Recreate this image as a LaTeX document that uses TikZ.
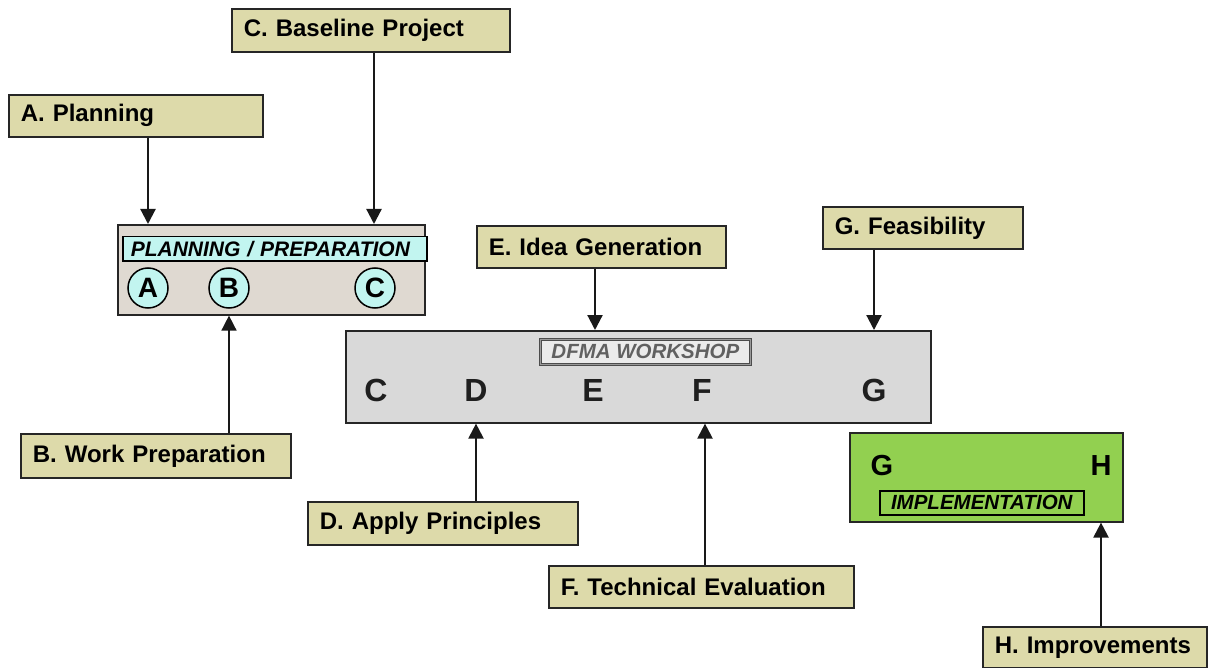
\documentclass[tikz,border=0pt]{standalone}
\usepackage{fontspec}
\setmainfont{Liberation Sans}
\usetikzlibrary{arrows.meta}
\hyphenpenalty=10000
\exhyphenpenalty=10000
\definecolor{khaki}{HTML}{DDDAAA}
\definecolor{planfill}{HTML}{DFD9D1}
\definecolor{aqua}{HTML}{C2F5F0}
\definecolor{wsfill}{HTML}{D9D9D9}
\definecolor{implgreen}{HTML}{92D050}
\begin{document}
\begin{tikzpicture}[x=1pt,y=-1pt,
  lbox/.style={draw=black!85,fill=khaki,line width=1.6pt,inner xsep=12pt,inner ysep=0pt,
    font=\bfseries\fontsize{24}{28}\selectfont,align=left,anchor=north west},
  arr/.style={line width=2.2pt,black!90,-{Triangle[length=15pt,width=15pt]}},
  circ/.style={circle,draw=black,line width=1.5pt,fill=aqua,minimum size=40pt,inner sep=0pt,
    font=\bfseries\fontsize{28}{30}\selectfont},
  wsl/.style={font=\bfseries\fontsize{32}{34}\selectfont,text=black!88},
  gh/.style={font=\bfseries\fontsize{29}{30}\selectfont}
]
\useasboundingbox (0,0) rectangle (1209,668);
\fill[white] (0,0) rectangle (1209,668);

% label boxes
\node[lbox,minimum width=254pt,minimum height=42pt,text width=230pt] (nA) at (8,94) {A. Planning};
\node[lbox,minimum width=278pt,minimum height=43pt,text width=254pt] (nC) at (231,8) {C. Baseline Project};
\node[lbox,minimum width=270pt,minimum height=44pt,text width=246pt] (nB) at (20,433) {B. Work Preparation};
\node[lbox,minimum width=249pt,minimum height=42pt,text width=225pt] (nE) at (476,225) {E. Idea Generation};
\node[lbox,minimum width=200pt,minimum height=42pt,text width=176pt] (nG) at (822,206) {G. Feasibility};
\node[lbox,minimum width=270pt,minimum height=43pt,text width=246pt] (nD) at (307,501) {D. Apply Principles};
\node[lbox,minimum width=305pt,minimum height=42pt,text width=281pt] (nF) at (548,565) {F. Technical Evaluation};
\node[lbox,minimum width=224pt,minimum height=41pt,text width=200pt] (nH) at (982,626) {H. Improvements};

% planning / preparation
\node[draw=black!85,fill=planfill,line width=1.6pt,minimum width=307pt,minimum height=90pt,anchor=north west,inner sep=0pt] (plan) at (117,224) {};
\node[draw=black,fill=aqua,line width=1.5pt,minimum width=304pt,minimum height=24pt,anchor=north west,inner xsep=8pt,inner ysep=0pt,
  text width=288pt,align=left,font=\bfseries\itshape\fontsize{21}{23}\selectfont] (planlbl) at (122,236) {PLANNING / PREPARATION};
\node[circ] (cA) at (148,288) {A};
\node[circ] (cB) at (229,288) {B};
\node[circ] (cC) at (375,288) {C};

% DFMA workshop
\node[draw=black!85,fill=wsfill,line width=1.6pt,minimum width=585pt,minimum height=92pt,anchor=north west,inner sep=0pt] (ws) at (345,330) {};
\node[draw=black!70,double=black!40,double distance=1pt,fill=black!8,line width=0.8pt,minimum width=210pt,minimum height=25pt,anchor=north west,inner sep=0pt,
  font=\bfseries\itshape\fontsize{20.5}{22}\selectfont,text=black!62] (wslbl) at (540,339) {DFMA WORKSHOP};
\node[wsl] (wC) at (376,390) {C};
\node[wsl] (wD) at (476,390) {D};
\node[wsl] (wE) at (593,390) {E};
\node[wsl] (wF) at (702,390) {F};
\node[wsl] (wG) at (874,390) {G};

% implementation
\node[draw=black!85,fill=implgreen,line width=1.6pt,minimum width=273pt,minimum height=89pt,anchor=north west,inner sep=0pt] (impl) at (849,432) {};
\node[gh] (iG) at (882,466) {G};
\node[gh] (iH) at (1101,466) {H};
\node[draw=black,line width=1.5pt,fill=implgreen,minimum width=204pt,minimum height=24pt,anchor=north west,inner sep=0pt,
  font=\bfseries\itshape\fontsize{20.5}{22}\selectfont] (impllbl) at (879,490) {IMPLEMENTATION};

% arrows
\draw[arr] (148,0 |- nA.south) -- (148,0 |- plan.north);
\draw[arr] (374,0 |- nC.south) -- (374,0 |- plan.north);
\draw[arr,line width=1.6pt] (229,0 |- nB.north) -- (229,0 |- plan.south);
\draw[arr] (595,0 |- nE.south) -- (595,0 |- ws.north);
\draw[arr] (874,0 |- nG.south) -- (874,0 |- ws.north);
\draw[arr] (476,0 |- nD.north) -- (476,0 |- ws.south);
\draw[arr] (705,0 |- nF.north) -- (705,0 |- ws.south);
\draw[arr] (1101,0 |- nH.north) -- (1101,0 |- impl.south);
\end{tikzpicture}
\end{document}
